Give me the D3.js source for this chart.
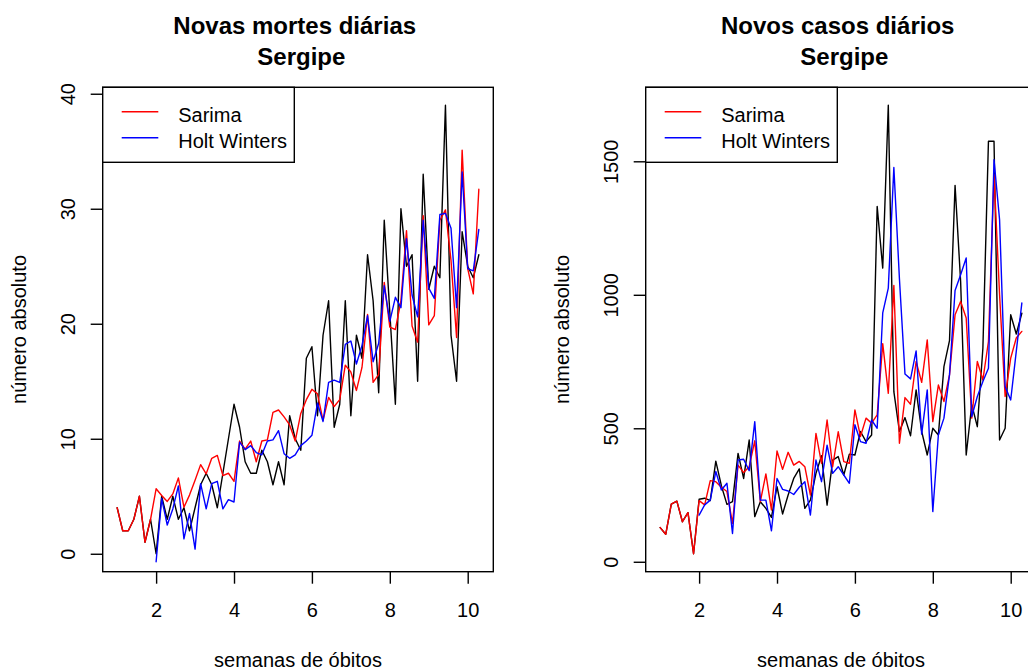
<!DOCTYPE html>
<html>
<head>
<meta charset="utf-8">
<script src="https://cdn.jsdelivr.net/npm/d3@7"></script>
<style>
  html, body { margin: 0; padding: 0; background: #fff; }
  svg { display: block; font-family: "Liberation Sans", Arial, Helvetica, sans-serif; }
</style>
</head>
<body>
<svg id="chart" width="1028" height="671"></svg>
<script>
// Daily series, one value per day; weeks counted from 1, 7 days per week
const seriesStart = 1;
const daysPerWeek = 7;

// Novas mortes diárias (Sergipe)
const deathsObserved = [4,2,2,3,5,1,3, 0,5,3,5,3,4,2,4,6,7,6,4,7,10,13,
  11,8,7,7,9,8,6,8,6,12,10,9,17,18,12,19,22,11,13,22,12,19,
  17,26,22,14,29,21,13,30,25,26,15,33,23,25,24,39,19,15,28,25,24,26];
const deathsSarima = [4,2,2,3,5,1,3, 5.65,5.07,4.55,5.2,6.6,4.05,5.1,6.4,7.75,6.95,8.3,8.55,6.8,7.0,6.3,
  9.8,9.1,9.8,8.0,9.8,9.9,12.3,12.5,11.9,11.2,9.8,12.2,13.4,14.3,13.9,11.6,13.6,12.8,13.4,16.4,15.8,14.2,
  16.2,20.8,14.9,15.6,23.6,19.7,19.5,22.0,28.1,19.8,18.4,29.4,19.9,20.7,29.0,29.9,25.5,18.8,35.1,24.8,22.6,31.7];
const deathsHoltWinters = [null,null,null,null,null,null,null,
  -0.7,4.8,2.5,3.9,5.9,1.3,3.5,0.4,6.1,3.9,6.1,6.3,3.9,4.7,4.5,
  9.7,9.05,9.4,8.8,8.6,9.8,9.9,10.7,8.7,8.3,8.6,9.4,9.8,10.3,13.1,11.5,14.9,15.1,14.9,18.2,18.5,16.5,
  18.1,20.7,16.7,18.3,23.3,20.2,22.3,21.4,27.4,22.5,20.6,29.0,23.1,22.2,29.5,29.6,28.3,21.4,33.2,24.8,24.6,28.2];

// Novos casos diários (Sergipe)
const casesObserved = [128,103,216,227,150,184,30,
  234,238,229,377,285,215,225,406,312,456,169,225,200,166,281,
  179,250,312,348,200,231,331,397,212,381,394,325,403,400,488,450,475,1331,1100,1710,
  637,488,540,472,644,488,400,500,475,731,828,1410,1050,400,588,506,800,1575,1575,456,500,925,853,931];
const casesSarima = [128,103,216,227,150,184,30,
  229,213,304,300,279,263,144,362,334,356,453,225,329,194,415,
  346,410,362,376,356,250,481,369,531,356,487,375,369,569,469,538,519,550,817,631,
  1035,444,615,590,750,672,831,525,662,600,700,925,975,913,538,750,681,825,1450,1000,619,763,838,863];
const casesHoltWinters = [null,null,null,null,null,null,null,
  175,213,231,338,269,294,106,381,384,341,525,231,231,116,312,
  271,265,252,279,300,175,381,300,437,331,356,325,294,513,450,444,531,500,932,1025,
  1477,1060,703,685,790,478,644,188,475,538,700,1016,1075,1138,544,619,675,725,1506,1281,656,606,788,969];

const weekTicks = [2, 4, 6, 8, 10];
const deathTicks = [0, 10, 20, 30, 40];
const caseTicks = [0, 500, 1000, 1500];
const legendLabels = ["Sarima", "Holt Winters"];
const seriesColors = ["#000000", "#ff0000", "#0000ff"];

const svg = d3.select("#chart");
svg.append("rect").attr("width", 1028).attr("height", 671).attr("fill", "#fff");

const FONT = 20;
const LW = 1.4;

function drawPanel(opts) {
  const { left, right, top, bottom, titleLines, observed, sarima, hw, yTicks } = opts;
  const g = svg.append("g");
  const n = observed.length;
  const toWeek = i => seriesStart + i / daysPerWeek;

  // R-style 4% padding around the data range (observed series)
  const xMin = toWeek(0), xMax = toWeek(n - 1);
  const xPad = (xMax - xMin) * 0.04;
  const x = d3.scaleLinear().domain([xMin - xPad, xMax + xPad]).range([left, right]);
  const [yLo, yHi] = d3.extent(observed);
  const yPad = (yHi - yLo) * 0.04;
  const y = d3.scaleLinear().domain([yLo - yPad, yHi + yPad]).range([bottom, top]);

  const line = d3.line()
    .defined(d => d != null)
    .x((d, i) => x(toWeek(i)))
    .y(d => y(d));

  [observed, sarima, hw].forEach((s, k) => {
    g.append("path")
      .attr("d", line(s))
      .attr("fill", "none")
      .attr("stroke", seriesColors[k])
      .attr("stroke-width", LW)
      .attr("stroke-linejoin", "round")
      .attr("stroke-linecap", "round");
  });

  // box
  g.append("rect")
    .attr("x", left).attr("y", top)
    .attr("width", right - left).attr("height", bottom - top)
    .attr("fill", "none").attr("stroke", "#000").attr("stroke-width", LW);

  // x axis
  const xAxis = g.append("g")
    .attr("transform", `translate(0,${bottom})`)
    .call(d3.axisBottom(x).tickValues(weekTicks).tickFormat(d3.format("d")).tickSize(12).tickSizeOuter(0));
  xAxis.select(".domain").remove();
  xAxis.selectAll(".tick line").attr("stroke", "#000").attr("stroke-width", LW);
  xAxis.selectAll(".tick text")
    .attr("y", 45.6).attr("dy", null)
    .attr("fill", "#000")
    .style("font-size", FONT + "px").style("font-family", "Liberation Sans, Arial, sans-serif");

  // y axis, labels parallel to axis
  const yAxis = g.append("g")
    .attr("transform", `translate(${left},0)`)
    .call(d3.axisLeft(y).tickValues(yTicks).tickFormat(d3.format("d")).tickSize(12).tickSizeOuter(0));
  yAxis.select(".domain").remove();
  yAxis.selectAll(".tick line").attr("stroke", "#000").attr("stroke-width", LW);
  yAxis.selectAll(".tick text")
    .attr("transform", "rotate(-90)")
    .attr("x", 0).attr("y", -27.7).attr("dy", null)
    .attr("text-anchor", "middle")
    .attr("fill", "#000")
    .style("font-size", FONT + "px").style("font-family", "Liberation Sans, Arial, sans-serif");

  const cx = (left + right) / 2;
  const cy = (top + bottom) / 2;

  // titles
  const spaceHalf = 3.3;
  g.append("text").attr("x", cx - spaceHalf).attr("y", 34.3)
    .attr("text-anchor", "middle").style("font-size", "24px").style("font-weight", "bold")
    .text(titleLines[0]);
  g.append("text").attr("x", cx + spaceHalf).attr("y", 65)
    .attr("text-anchor", "middle").style("font-size", "24px").style("font-weight", "bold")
    .text(titleLines[1]);

  // axis titles
  g.append("text").attr("x", cx).attr("y", bottom + 95)
    .attr("text-anchor", "middle").style("font-size", FONT + "px")
    .text("semanas de óbitos");
  g.append("text")
    .attr("transform", `translate(${left - 77.1},${cy}) rotate(-90)`)
    .attr("text-anchor", "middle").style("font-size", FONT + "px")
    .text("número absoluto");

  // legend
  const lg = g.append("g").attr("transform", `translate(${left},${top})`);
  lg.append("rect").attr("width", 191.6).attr("height", 75)
    .attr("fill", "#fff").attr("stroke", "#000").attr("stroke-width", LW);
  legendLabels.forEach((lab, k) => {
    const ly = 24.5 + k * 26;
    lg.append("line").attr("x1", 19).attr("x2", 55.6).attr("y1", ly).attr("y2", ly)
      .attr("stroke", seriesColors[k + 1]).attr("stroke-width", LW);
    lg.append("text").attr("x", 75.5).attr("y", ly + 10)
      .style("font-size", FONT + "px").text(lab);
  });
}

drawPanel({
  left: 102.7, right: 493.3, top: 87.3, bottom: 571.7,
  titleLines: ["Novas mortes diárias", "Sergipe"],
  observed: deathsObserved, sarima: deathsSarima, hw: deathsHoltWinters,
  yTicks: deathTicks
});

drawPanel({
  left: 645.7, right: 1036.3, top: 87.3, bottom: 571.7,
  titleLines: ["Novos casos diários", "Sergipe"],
  observed: casesObserved, sarima: casesSarima, hw: casesHoltWinters,
  yTicks: caseTicks
});
</script>
</body>
</html>
